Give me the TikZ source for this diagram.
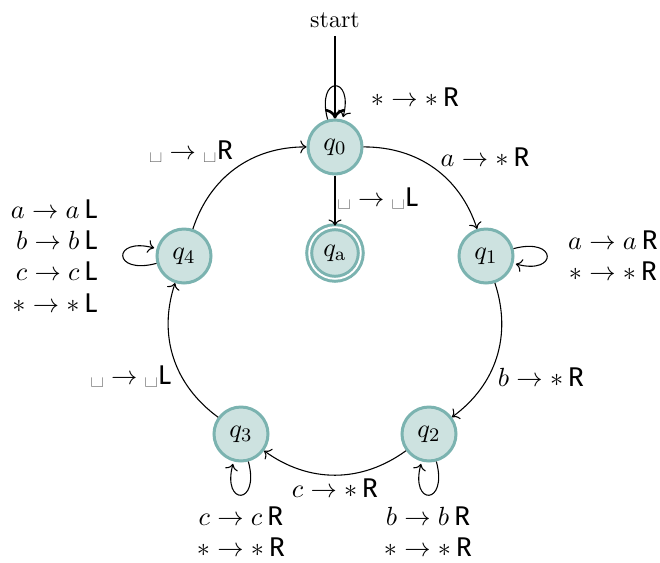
\documentclass[tikz,border=0pt]{standalone}
\usepackage{fontspec}
\newfontfamily\rlfont{Fira Sans}
\usetikzlibrary{arrows.meta}
\definecolor{stfill}{HTML}{CDE2E0}
\definecolor{stdraw}{HTML}{7BB3B0}
\newcommand{\mvR}{{\rlfont R}}
\newcommand{\mvL}{{\rlfont L}}
\newcommand{\blk}{\mbox{\textvisiblespace}}
\newcommand{\lblsize}{\fontsize{11.3}{13}\selectfont}
\begin{document}
\begin{tikzpicture}[x=0.4167pt,y=-0.4167pt,
  state/.style={circle, draw=stdraw, fill=stfill, line width=1.25pt, minimum size=22.5pt, inner sep=0pt, font=\lblsize},
  accept/.style={state, double=white, double distance=0.8pt, minimum size=21.5pt},
  tr/.style={->, line width=0.45pt},
  lbl/.style={inner sep=0pt, font=\lblsize},
  lblc/.style={lbl, align=center}]
\useasboundingbox (0,0) rectangle (660,563);
\node[state] (q0) at (335,147) {$q_0$};
\node[accept] (qa) at (335,253) {$q_{\mathrm{a}}$};
\node[state] (q1) at (486,256) {$q_1$};
\node[state] (q4) at (184,256) {$q_4$};
\node[state] (q2) at (429,434) {$q_2$};
\node[state] (q3) at (241,434) {$q_3$};
\node (start) at (335,20) {start};
\draw[->, line width=1.1pt] (start) -- (q0);
\draw[tr] (q0) edge[loop above] (q0);
\draw[tr] (q0) -- (qa);
\draw[tr] (q0) to[bend left=36] (q1);
\draw[tr] (q1) edge[loop right] (q1);
\draw[tr] (q1) to[bend left=36] (q2);
\draw[tr] (q2) edge[loop below] (q2);
\draw[tr] (q2) to[bend left=36] (q3);
\draw[tr] (q3) edge[loop below] (q3);
\draw[tr] (q3) to[bend left=36] (q4);
\draw[tr] (q4) edge[loop left] (q4);
\draw[tr] (q4) to[bend left=36] (q0);
\node[lbl] (l0) at (415,97) {$*\rightarrow *$\,\mvR};
\node[lbl] (l0a) at (378,199) {\blk$\;\rightarrow\;$\blk\mvL};
\node[lbl] (l01) at (485,157) {$a\rightarrow *$\,\mvR};
\node[lblc] (l1) at (613,256) {$a\rightarrow a$\,\mvR\\$*\rightarrow *$\,\mvR};
\node[lbl] (l12) at (541,377) {$b\rightarrow *$\,\mvR};
\node[lblc] (l2) at (428,532) {$b\rightarrow b$\,\mvR\\$*\rightarrow *$\,\mvR};
\node[lbl] (l23) at (335,488) {$c\rightarrow *$\,\mvR};
\node[lblc] (l3) at (241,532) {$c\rightarrow c$\,\mvR\\$*\rightarrow *$\,\mvR};
\node[lbl] (l34) at (131,377) {\blk$\;\rightarrow\;$\blk\mvL};
\node[lbl, align=right, anchor=east] (l4) at (98,256) {$a\rightarrow a$\,\mvL\\$b\rightarrow b$\,\mvL\\$c\rightarrow c$\,\mvL\\$*\rightarrow *$\,\mvL};
\node[lbl] (l40) at (191,152) {\blk$\;\rightarrow\;$\blk\mvR};
\end{tikzpicture}
\end{document}
